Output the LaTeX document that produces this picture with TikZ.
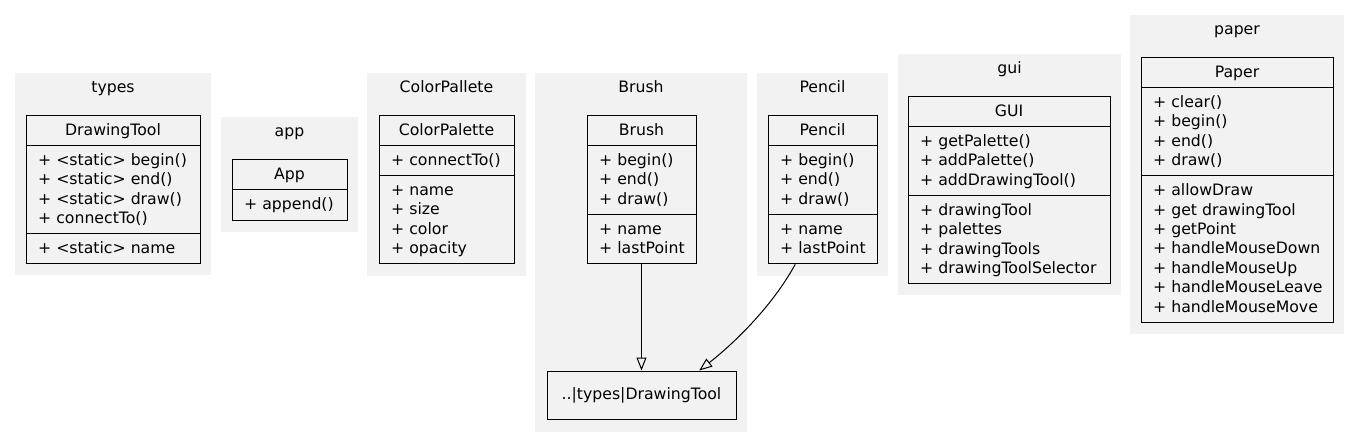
\documentclass[tikz,border=0pt]{standalone}
\usepackage{fontspec}
\setmainfont{DejaVu Sans}
\usetikzlibrary{arrows.meta}
\definecolor{clusterbg}{HTML}{F2F2F2}
\tikzset{
  cluster/.style={fill=clusterbg, draw=none},
  umlbox/.style={draw=black, line width=1pt, inner sep=0pt},
  umlline/.style={draw=black, line width=1pt},
  txt/.style={inner sep=0pt, font=\fontsize{15.7}{19}\selectfont},
  inh/.style={draw=black, line width=1pt, -{Triangle[open, length=13pt, width=10pt]}},
}
\newcommand\uclass[9]{%
  \pgfmathsetmacro\ucA{#4+30.2}%
  \pgfmathsetmacro\ucB{\ucA+19.4*#6+10.8}%
  \pgfmathsetmacro\ucC{\ucB+19.4*#8+10.8}%
  \pgfmathsetmacro\ucX{(#2+#3)/2}%
  \pgfmathsetmacro\ucY{(#4+\ucC)/2}%
  \pgfmathsetmacro\ucW{#3-#2}%
  \pgfmathsetmacro\ucH{\ucC-#4}%
  \node[umlbox, minimum width=\ucW pt, minimum height=\ucH pt] (#1) at (\ucX,\ucY) {};
  \draw[umlline] (#2,\ucA) -- (#3,\ucA);
  \draw[umlline] (#2,\ucB) -- (#3,\ucB);
  \node[txt, anchor=base] (#1-title) at (\ucX,#4+20) {#5};
  \foreach \m [count=\i] in {#7} {\node[txt, anchor=base west] (#1-m\i) at (#2+12,{\ucA+20+19.4*(\i-1)}) {\m};}
  \foreach \m [count=\i] in {#9} {\node[txt, anchor=base west] (#1-a\i) at (#2+12,{\ucB+20+19.4*(\i-1)}) {\m};}
}
\begin{document}
\begin{tikzpicture}[x=1pt, y=-1pt]
\useasboundingbox[fill=white] (0,0) rectangle (1360,447);
% clusters
\fill[cluster] (15,73) rectangle (211,275);
\fill[cluster] (221,117) rectangle (358,232);
\fill[cluster] (367,73) rectangle (526,276);
\fill[cluster] (535,73) rectangle (747,432);
\fill[cluster] (757,73) rectangle (888,276);
\fill[cluster] (898,54) rectangle (1121,295);
\fill[cluster] (1130,15) rectangle (1344,334);
\node[txt, anchor=base] (c-types) at (113,92) {types};
\node[txt, anchor=base] (c-app) at (289.5,136) {app};
\node[txt, anchor=base] (c-color) at (446.5,92) {ColorPallete};
\node[txt, anchor=base] (c-brush) at (641,92) {Brush};
\node[txt, anchor=base] (c-pencil) at (822.5,92) {Pencil};
\node[txt, anchor=base] (c-gui) at (1009.5,73) {gui};
\node[txt, anchor=base] (c-paper) at (1237,34) {paper};
% classes
\uclass{drawingtool}{26}{200}{115}{DrawingTool}{4}{{+ <static> begin()},{+ <static> end()},{+ <static> draw()},{+ connectTo()}}{1}{{+ <static> name}}
\uclass{colorpalette}{379}{514}{115}{ColorPalette}{1}{{+ connectTo()}}{4}{{+ name},{+ size},{+ color},{+ opacity}}
\uclass{brush}{587}{696}{115}{Brush}{3}{{+ begin()},{+ end()},{+ draw()}}{2}{{+ name},{+ lastPoint}}
\uclass{pencil}{768}{877}{115}{Pencil}{3}{{+ begin()},{+ end()},{+ draw()}}{2}{{+ name},{+ lastPoint}}
\uclass{gui}{908}{1110}{96}{GUI}{3}{{+ getPalette()},{+ addPalette()},{+ addDrawingTool()}}{4}{{+ drawingTool},{+ palettes},{+ drawingTools},{+ drawingToolSelector}}
\uclass{paper}{1141}{1333}{57}{Paper}{4}{{+ clear()},{+ begin()},{+ end()},{+ draw()}}{7}{{+ allowDraw},{+ get drawingTool},{+ getPoint},{+ handleMouseDown},{+ handleMouseUp},{+ handleMouseLeave},{+ handleMouseMove}}
% App
\node[umlbox, minimum width=115pt, minimum height=61pt] (app) at (289.5,189.5) {};
\draw[umlline] (232,189.5) -- (347,189.5);
\node[txt, anchor=base] (app-title) at (289.5,179) {App};
\node[txt, anchor=base west] (app-m1) at (244,209.5) {+ append()};
% reference box
\node[umlbox, txt, minimum width=189pt, minimum height=48pt] (dtref) at (641.5,395) {..|types|DrawingTool};
% edges
\draw[inh] (brush) -- (dtref);
\draw[inh] (pencil.250) .. controls +(-24,44) and +(32,-25) .. (dtref.23);
\end{tikzpicture}
\end{document}
